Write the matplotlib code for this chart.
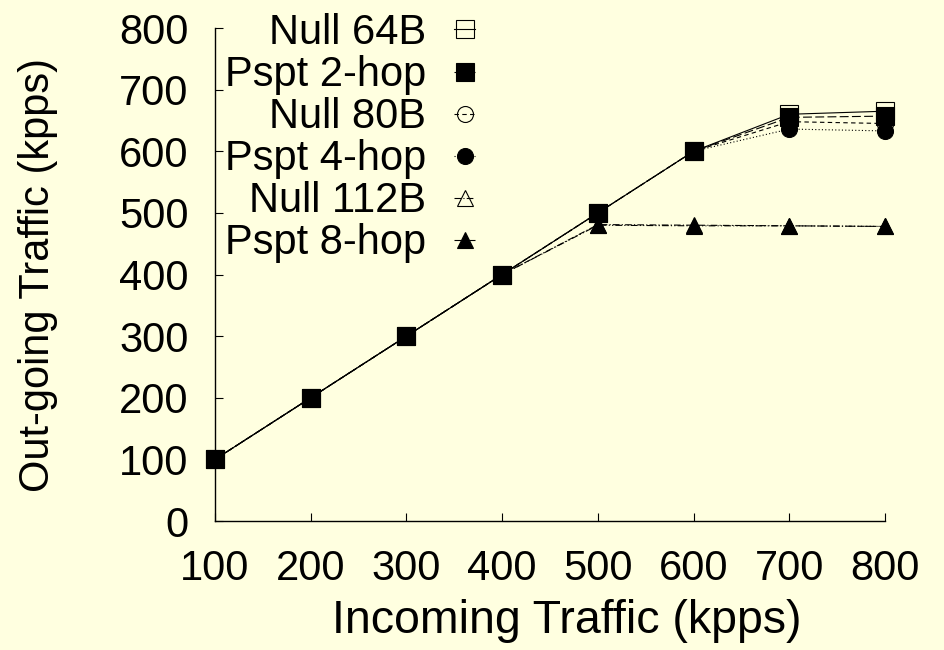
import numpy as np
import matplotlib
matplotlib.use("Agg")
import matplotlib.pyplot as plt

plt.rcParams['font.family'] = ['Liberation Sans', 'DejaVu Sans']

# incoming traffic (kpps)
incoming = [100, 200, 300, 400, 500, 600, 700, 800]

# out-going traffic (kpps) per configuration
null_64 = [100, 200, 300, 400, 500, 600, 660, 665]
pspt_2hop = [100, 200, 300, 400, 500, 600, 655, 657]
null_80 = [100, 200, 300, 400, 500, 600, 648, 645]
pspt_4hop = [100, 200, 300, 400, 500, 600, 636, 633]
null_112 = [100, 200, 300, 400, 481, 480, 479, 478]
pspt_8hop = [100, 200, 300, 400, 480, 479, 479, 478]

labels = ['Null 64B', 'Pspt 2-hop', 'Null 80B', 'Pspt 4-hop', 'Null 112B', 'Pspt 8-hop']
series = [null_64, pspt_2hop, null_80, pspt_4hop, null_112, pspt_8hop]

bg = '#ffffe0'
styles = [
    dict(ls='-', marker='s', mfc='none', ms=12.5),
    dict(ls=(0, (8, 3)), marker='s', mfc='k', ms=12.5),
    dict(ls=(0, (4, 3)), marker='o', mfc='none', ms=11.5),
    dict(ls=(0, (1, 2)), marker='o', mfc='k', ms=11.5),
    dict(ls=(0, (6, 2, 1, 2)), marker='^', mfc='none', ms=12),
    dict(ls=(0, (6, 2, 1, 2, 1, 2)), marker='^', mfc='k', ms=12),
]

fig = plt.figure(figsize=(9.44, 6.5), dpi=100, facecolor=bg)
ax = fig.add_axes([0.2278, 0.19846, 0.70975, 0.75846], facecolor=bg)

for y, lab, st in zip(series, labels, styles):
    ax.plot(incoming, y, color='k', lw=0.8, mec='k', mew=0.8,
            label=lab, clip_on=False, **st)

ax.set_xlim(100, 800)
ax.set_ylim(0, 800)
ax.set_xticks(np.arange(100, 801, 100))
ax.set_yticks(np.arange(0, 801, 100))
ax.spines['top'].set_visible(False)
ax.spines['right'].set_visible(False)
for s in ['left', 'bottom']:
    ax.spines[s].set_linewidth(1.0)
ax.tick_params(axis='both', direction='in', length=6, width=0.8, labelsize=30)
ax.tick_params(axis='x', pad=20.5)
ax.tick_params(axis='y', pad=19)

fig.text(0.04, (650 - 275) / 650, 'Out-going Traffic (kpps)', rotation=90,
         ha='center', va='center', fontsize=30)
fig.text(567 / 944, (650 - 633) / 650, 'Incoming Traffic (kpps)',
         ha='center', va='baseline', fontsize=33.5)

leg = ax.legend(loc='upper right', bbox_to_anchor=(475 / 944, 637 / 650),
                bbox_transform=fig.transFigure, frameon=False, fontsize=30,
                markerfirst=False, handlelength=0.5, handletextpad=0.67,
                labelspacing=0.05, borderpad=0, borderaxespad=0)

fig.savefig('out.png', dpi=100, facecolor=bg)
